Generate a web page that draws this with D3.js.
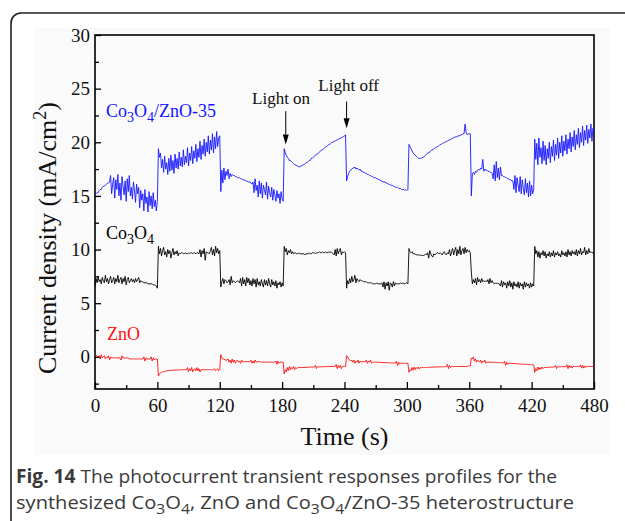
<!DOCTYPE html>
<html>
<head>
<meta charset="utf-8">
<script src="https://cdn.jsdelivr.net/npm/d3@7"></script>
<style>
  body { margin: 0; background: #fff; }
  svg { display: block; }
</style>
</head>
<body>
<div id="chart"></div>
<script>
// one reading per second, 0..480 s
const times = d3.range(0, 481, 1);

// Co3O4/ZnO-35 (blue), 20 values per row
const heteroValues = [
  15.1,15.2,15.3,15.3,15.5,15.6,15.6,15.8,15.9,15.9,16.0,16.1,16.2,16.2,16.3,16.9,15.2,16.1,16.7,14.8, // 0
  16.5,15.6,17.0,15.0,16.2,14.6,16.8,15.9,15.1,16.4,14.5,16.6,15.4,16.9,15.0,15.8,14.7,16.3,15.5,14.4, // 20
  16.1,15.2,15.8,13.9,15.5,14.6,15.2,13.6,15.6,14.3,14.9,13.5,15.4,14.1,15.0,13.8,15.3,14.0,14.6,13.6, // 40
  14.5,19.4,18.6,19.0,17.6,18.4,17.2,18.7,17.5,18.1,17.0,18.5,17.3,18.8,17.4,18.3,17.1,18.9,17.6,18.5, // 60
  17.5,19.1,17.8,18.6,17.7,19.3,17.9,18.7,18.1,19.5,17.8,19.0,18.3,19.6,18.0,19.2,18.5,19.8,18.2,19.4, // 80
  18.6,20.1,18.4,19.7,18.9,20.3,18.7,20.0,19.1,20.6,18.9,20.2,19.3,20.8,19.0,20.5,19.4,21.0,19.6,20.4, // 100
  20.6,15.4,17.4,16.2,17.6,16.5,17.3,16.9,17.5,16.6,17.1,16.8,17.0,16.9,16.9,16.8,16.8,16.7,16.7,16.7, // 120
  16.6,16.6,16.5,16.5,16.5,16.4,16.4,16.3,16.3,16.3,16.2,16.1,16.3,15.3,16.6,15.5,16.0,14.9,16.4,15.2, // 140
  16.2,14.8,16.0,15.6,15.1,16.3,14.7,15.9,15.3,14.9,15.8,14.6,15.6,15.1,14.5,15.5,14.8,15.2,14.3,15.4, // 160
  14.7,14.5,19.4,19.0,18.8,18.6,18.5,18.3,18.3,18.2,18.1,18.0,17.9,17.9,17.8,17.8,17.7,17.7,17.8,17.8, // 180
  17.9,17.9,18.0,18.1,18.1,18.2,18.3,18.3,18.5,18.5,18.6,18.7,18.8,18.9,18.9,19.0,19.1,19.2,19.3,19.3, // 200
  19.4,19.5,19.6,19.6,19.7,19.8,19.8,19.9,20.0,20.0,20.1,20.1,20.2,20.2,20.3,20.3,20.4,20.4,20.5,20.5, // 220
  20.6,20.7,16.4,16.8,17.1,17.3,17.4,17.5,17.6,17.6,17.7,17.5,17.6,17.5,17.4,17.5,17.3,17.3,17.2,17.2, // 240
  17.1,17.1,17.0,17.0,16.9,16.9,16.8,16.8,16.7,16.7,16.7,16.6,16.6,16.5,16.5,16.4,16.4,16.3,16.3,16.3, // 260
  16.2,16.2,16.1,16.1,16.0,16.0,16.0,15.9,15.9,15.8,15.8,15.8,15.7,15.7,15.7,15.6,15.6,15.6,15.5,15.6, // 280
  15.5,15.6,19.8,19.6,19.4,19.2,19.0,18.9,18.8,18.7,18.6,18.5,18.5,18.5,18.5,18.6,18.6,18.7,18.8,18.9, // 300
  19.0,19.0,19.1,19.2,19.3,19.3,19.4,19.5,19.5,19.6,19.6,19.7,19.8,19.8,19.9,19.9,20.0,20.0,20.1,20.1, // 320
  20.2,20.2,20.3,20.3,20.4,20.4,20.5,20.5,20.5,20.6,20.6,20.6,20.7,20.7,20.8,20.8,21.7,20.9,20.7,20.8, // 340
  20.8,20.8,15.0,17.1,17.2,17.0,17.3,17.2,17.4,17.5,17.4,17.6,17.5,18.4,17.3,17.5,17.4,17.4,17.3,17.3, // 360
  17.2,17.2,17.1,16.6,17.9,16.4,18.2,16.7,17.6,16.5,17.7,16.9,16.9,16.8,16.8,16.7,16.7,16.6,16.6,16.5, // 380
  16.5,16.4,16.4,15.6,16.9,15.3,16.7,16.0,15.4,16.8,15.2,16.5,15.7,15.1,16.6,15.3,16.2,14.9,16.4,15.0, // 400
  16.0,15.2,15.6,20.3,18.4,19.9,17.9,20.4,18.6,19.5,18.0,20.1,18.3,19.7,17.9,19.4,18.5,20.0,18.1,19.6, // 420
  18.7,20.2,18.3,19.8,18.8,20.4,18.5,20.0,19.0,20.6,18.7,20.1,19.2,20.7,18.9,20.3,19.4,20.9,19.1,20.5, // 440
  19.6,21.1,19.3,20.7,19.8,21.3,19.5,20.9,20.0,21.5,19.7,21.1,20.2,21.6,19.9,21.2,20.4,21.7,20.1,21.3, // 460
  20.9                                                                                                // 480
];

// Co3O4 (black)
const co3o4Values = [
  6.5,7.3,6.9,7.5,7.0,7.2,6.8,7.4,7.1,6.9,7.6,7.0,7.3,6.8,7.2,7.5,6.9,7.1,7.4,6.8,       // 0
  7.3,7.0,7.6,6.9,7.2,7.4,6.8,7.3,7.0,7.5,6.7,7.2,7.4,6.9,7.1,7.3,7.0,7.2,6.9,7.3,       // 20
  7.0,7.2,7.4,6.9,7.1,7.0,7.0,6.9,6.9,6.9,6.9,6.8,6.8,6.8,6.8,6.8,6.7,6.7,6.7,6.6,       // 40
  6.4,10.3,9.6,10.1,9.4,9.9,10.2,9.5,9.8,9.3,10.0,9.6,9.9,9.2,9.7,10.1,9.5,9.8,9.6,9.9,  // 60
  9.4,9.7,9.6,9.7,9.7,9.6,9.6,9.7,9.6,9.6,9.7,9.6,9.7,9.7,9.6,9.7,9.7,9.6,9.7,9.7,       // 80
  9.6,10.0,9.3,9.9,9.6,10.1,9.0,9.8,9.7,9.7,9.6,9.9,10.2,9.5,10.0,9.4,10.3,9.7,10.1,9.6, // 100
  9.9,6.5,7.0,7.3,6.8,7.2,7.1,6.9,7.0,7.2,6.7,7.5,6.9,7.1,7.0,6.9,7.0,7.1,7.0,6.9,       // 120
  7.3,6.6,7.4,6.8,7.2,6.6,7.4,6.9,7.3,6.7,7.1,6.6,7.3,6.8,7.2,6.5,7.3,6.7,7.0,6.6,       // 140
  7.2,6.8,6.5,7.2,6.7,7.1,6.6,7.3,6.8,6.5,7.2,6.7,7.0,6.6,7.1,6.4,6.9,6.7,7.0,6.5,       // 160
  6.9,6.6,10.3,9.8,10.1,9.5,9.9,9.7,10.0,9.6,9.8,9.6,9.7,9.7,9.6,9.6,9.7,9.6,9.6,9.6,    // 180
  9.6,9.6,9.5,9.6,9.6,9.6,9.7,9.6,9.6,9.7,9.7,9.7,9.6,9.7,9.7,9.7,9.8,9.7,9.7,9.8,       // 200
  9.7,9.7,9.8,9.7,9.7,9.8,9.7,9.8,9.7,9.6,9.5,10.0,9.4,10.1,9.6,9.9,10.1,9.5,9.8,9.7,    // 220
  9.8,9.7,6.4,7.1,6.8,7.3,6.9,7.5,7.0,7.2,7.6,6.9,7.3,7.1,7.0,7.2,7.1,7.1,7.0,7.0,       // 240
  7.0,7.0,6.9,6.9,6.9,6.9,6.9,6.8,6.8,6.8,6.8,6.9,6.8,6.8,6.8,6.8,6.9,6.5,7.0,6.3,       // 260
  6.9,6.6,7.0,6.2,6.9,6.8,6.5,7.0,6.6,6.9,6.8,6.8,6.8,6.8,6.9,6.8,6.9,6.8,6.8,6.9,       // 280
  6.9,6.8,10.1,9.8,9.7,9.8,9.6,9.6,9.6,9.5,9.5,9.5,9.5,9.5,9.4,9.5,9.4,9.5,9.6,9.5,      // 300
  9.7,9.2,9.9,9.6,9.4,9.3,9.6,9.5,9.6,9.7,9.7,9.6,9.7,9.6,9.5,9.7,9.8,9.6,9.5,9.7,       // 320
  9.6,10.0,9.4,9.8,10.1,9.5,9.9,10.2,9.4,10.0,9.6,10.3,9.5,9.9,10.1,9.6,10.2,9.7,10.0,9.8, // 340
  9.9,9.7,7.9,6.8,7.2,6.9,7.3,6.7,7.4,7.0,7.2,6.9,7.3,7.0,7.1,7.0,7.1,7.0,7.2,6.8,       // 360
  7.3,6.9,7.1,6.9,6.8,6.9,6.8,6.9,6.8,6.8,6.6,7.1,6.5,7.0,6.7,6.9,6.4,7.0,6.6,7.1,       // 380
  6.5,6.9,6.3,7.0,6.6,6.8,6.5,7.0,6.4,6.9,6.6,6.8,6.3,7.0,6.5,6.9,6.6,6.8,6.4,6.9,       // 400
  6.5,6.8,6.6,10.3,9.6,9.9,9.3,9.8,9.2,9.7,9.5,9.9,9.4,9.8,9.2,9.6,9.4,9.8,9.3,9.7,      // 420
  9.4,9.9,9.3,9.7,9.5,9.8,9.4,9.6,9.3,9.9,9.5,9.7,9.4,9.8,9.3,10.0,9.5,9.8,9.4,9.9,      // 440
  9.6,9.8,9.5,10.0,9.4,9.9,9.6,10.1,9.5,9.8,9.7,10.2,9.5,9.9,9.6,10.1,9.7,9.8,9.7,9.7,   // 460
  9.7                                                                                  // 480
];

// ZnO (red)
const znoValues = [
  0.2,0.1,0.1,0.0,0.1,-0.2,0.2,-0.1,0.0,0.1,-0.2,0.0,-0.1,0.1,-0.3,0.0,-0.1,-0.1,-0.1,-0.1,                 // 0
  -0.1,-0.1,-0.1,-0.1,-0.1,-0.3,0.1,-0.1,-0.1,-0.1,-0.1,-0.1,-0.1,-0.2,-0.2,-0.2,-0.2,-0.2,-0.2,-0.2,       // 20
  -0.2,-0.2,-0.2,-0.2,-0.2,-0.2,-0.2,0.0,-0.4,-0.1,-0.2,-0.2,-0.2,-0.2,0.0,-0.4,-0.1,-0.3,-0.2,-0.2,        // 40
  -0.2,-1.8,-1.6,-1.5,-1.45,-1.4,-1.38,-1.35,-1.33,-1.3,-1.3,-1.28,-1.27,-1.26,-1.25,-1.25,-1.24,-1.24,-1.23,-1.23, // 60
  -1.22,-1.22,-1.22,-1.21,-1.2,-1.2,-1.2,-1.2,-1.2,-1.0,-1.4,-1.1,-1.3,-1.0,-1.4,-1.2,-1.1,-1.3,-1.0,-1.3,  // 80
  -1.1,-1.4,-1.2,-1.2,-1.2,-1.2,-1.2,-1.2,-1.2,-1.2,-1.2,-1.2,-1.2,-1.2,-1.2,-1.1,-1.3,-1.2,-1.1,-1.3,      // 100
  -1.2,0.2,-0.1,-0.2,-0.2,-0.3,-0.3,-0.3,-0.2,-0.5,-0.3,-0.6,-0.2,-0.5,-0.3,-0.6,-0.4,-0.3,-0.5,-0.4,       // 120
  -0.6,-0.3,-0.5,-0.4,-0.5,-0.4,-0.45,-0.45,-0.45,-0.45,-0.3,-0.6,-0.4,-0.6,-0.3,-0.5,-0.45,-0.45,-0.45,-0.45, // 140
  -0.5,-0.5,-0.5,-0.5,-0.5,-0.5,-0.5,-0.5,-0.5,-0.5,-0.5,-0.5,-0.5,-0.5,-0.4,-0.7,-0.4,-0.6,-0.5,-0.5,     // 160
  -0.5,-0.5,-1.6,-1.2,-1.4,-1.0,-1.3,-0.9,-1.2,-1.0,-1.1,-0.9,-1.2,-1.0,-1.1,-1.0,-1.0,-1.0,-1.0,-1.0,     // 180
  -1.0,-1.0,-0.98,-0.98,-0.97,-0.97,-0.96,-0.96,-0.95,-0.95,-0.95,-0.95,-0.8,-1.1,-0.9,-0.94,-0.94,-0.93,-0.93,-0.93, // 200
  -0.92,-0.92,-0.92,-0.91,-0.91,-0.91,-0.9,-0.9,-0.9,-0.9,-0.9,-0.9,-0.7,-1.1,-0.8,-1.0,-0.8,-1.1,-0.9,-0.9, // 220
  -0.9,-0.9,0.1,0.0,-0.2,-0.3,-0.4,-0.3,-0.5,-0.3,-0.6,-0.4,-0.5,-0.3,-0.6,-0.4,-0.5,-0.45,-0.45,-0.45,     // 240
  -0.45,-0.3,-0.6,-0.4,-0.5,-0.3,-0.6,-0.5,-0.5,-0.5,-0.5,-0.5,-0.5,-0.5,-0.52,-0.52,-0.53,-0.53,-0.54,-0.54, // 260
  -0.55,-0.55,-0.55,-0.56,-0.56,-0.57,-0.57,-0.58,-0.58,-0.59,-0.4,-0.8,-0.5,-0.7,-0.6,-0.6,-0.6,-0.6,-0.6,-0.6, // 280
  -0.6,-0.6,-1.45,-1.2,-1.3,-1.0,-1.25,-0.95,-1.2,-1.0,-1.1,-0.95,-1.15,-1.0,-1.0,-1.0,-1.0,-1.0,-1.0,-1.0, // 300
  -0.98,-0.98,-0.97,-0.97,-0.96,-0.96,-0.95,-0.95,-0.95,-0.95,-0.94,-0.94,-0.94,-0.93,-0.93,-0.93,-0.92,-0.92,-0.92,-0.7, // 320
  -1.1,-0.8,-1.0,-0.9,-0.9,-0.9,-0.9,-0.9,-0.9,-0.9,-0.9,-0.9,-0.9,-0.9,-0.9,-0.9,-0.9,-0.9,-0.9,-0.85,    // 340
  -0.85,-0.85,-0.1,-0.2,0.0,-0.4,-0.2,-0.5,-0.3,-0.4,-0.5,-0.3,-0.6,-0.4,-0.5,-0.3,-0.6,-0.5,-0.5,-0.5,     // 360
  -0.5,-0.5,-0.5,-0.5,-0.52,-0.52,-0.53,-0.53,-0.54,-0.54,-0.55,-0.55,-0.56,-0.56,-0.4,-0.8,-0.5,-0.7,-0.6,-0.6, // 380
  -0.6,-0.6,-0.62,-0.62,-0.63,-0.64,-0.65,-0.65,-0.66,-0.67,-0.68,-0.68,-0.69,-0.7,-0.7,-0.7,-0.71,-0.72,-0.72,-0.73, // 400
  -0.73,-0.74,-0.75,-1.45,-1.1,-1.3,-0.95,-1.2,-1.0,-1.15,-0.95,-1.1,-1.0,-1.0,-1.0,-0.98,-0.98,-0.97,-0.97,-0.96, // 420
  -0.96,-0.95,-0.95,-0.8,-1.1,-0.9,-0.94,-0.93,-0.93,-0.92,-0.92,-0.92,-0.91,-0.91,-0.75,-1.1,-0.8,-1.0,-0.85,-1.05, // 440
  -0.9,-0.9,-0.9,-0.9,-0.9,-0.9,-0.9,-0.75,-1.05,-0.8,-1.05,-0.85,-1.0,-0.9,-0.9,-0.9,-0.9,-0.9,-0.9,-0.9, // 460
  -0.9                                                                                                     // 480
];

const xTicks = [0, 60, 120, 180, 240, 300, 360, 420, 480];
const xMinorTicks = [30, 90, 150, 210, 270, 330, 390, 450];
const yTicks = [0, 5, 10, 15, 20, 25, 30];
const yMinorTicks = [-2.5, 2.5, 7.5, 12.5, 17.5, 22.5, 27.5];

console.log(times.length, heteroValues.length, co3o4Values.length, znoValues.length);

const serif = '"Liberation Serif", "Times New Roman", serif';
const W = 625, H = 521;

const svg = d3.select("#chart").append("svg")
  .attr("width", W).attr("height", H);

// figure panel frame + light image background
svg.append("rect").attr("x", 34).attr("y", 28).attr("width", 576).attr("height", 427)
  .attr("fill", "#fafafa");
svg.append("path")
  .attr("d", "M11,521 V23 A10,10 0 0 1 21,13 H625")
  .attr("fill", "none").attr("stroke", "#222").attr("stroke-width", 1.6);

const x = d3.scaleLinear().domain([0, 480]).range([95, 594]);
const y = d3.scaleLinear().domain([-3, 30]).range([389, 35]);

svg.append("defs").append("clipPath").attr("id", "plot")
  .append("rect").attr("x", 95).attr("y", 35).attr("width", 499).attr("height", 354);

// axes, ticks pointing in
svg.append("g").attr("transform", "translate(0,389)")
  .call(d3.axisBottom(x).tickValues(xTicks).tickSizeInner(-7).tickSizeOuter(0).tickPadding(10));
svg.append("g").attr("transform", "translate(0,389)")
  .call(d3.axisBottom(x).tickValues(xMinorTicks).tickSizeInner(-4).tickSizeOuter(0).tickFormat(""));
svg.append("g").attr("transform", "translate(95,0)")
  .call(d3.axisLeft(y).tickValues(yTicks).tickSizeInner(-6).tickSizeOuter(0).tickPadding(5));
svg.append("g").attr("transform", "translate(95,0)")
  .call(d3.axisLeft(y).tickValues(yMinorTicks).tickSizeInner(-4).tickSizeOuter(0).tickFormat(""));

svg.selectAll(".domain").remove();
svg.selectAll(".tick line").attr("stroke", "#000").attr("stroke-width", 1.3);
svg.selectAll(".tick text").attr("font-family", serif).attr("font-size", 19).attr("fill", "#111");

svg.append("rect").attr("x", 95).attr("y", 35).attr("width", 499).attr("height", 354)
  .attr("fill", "none").attr("stroke", "#000").attr("stroke-width", 1.6);

// series
const line = d3.line().x((d, i) => x(times[i])).y(d => y(d));
const series = [
  { values: heteroValues, color: "#1515ff" },
  { values: co3o4Values, color: "#000000" },
  { values: znoValues, color: "#ff1010" }
];
svg.append("g").attr("clip-path", "url(#plot)")
  .selectAll("path").data(series).enter().append("path")
  .attr("d", d => line(d.values))
  .attr("fill", "none")
  .attr("stroke", d => d.color)
  .attr("stroke-width", 0.9)
  .attr("stroke-linejoin", "round");

// rich text helper: parts = [[text, "sub"|"sup"|"b"|null, dy], ...]
function richText(t, parts, size) {
  parts.forEach(p => {
    const s = t.append("tspan").text(p[0]);
    if (p[1] === "sub") s.attr("font-size", size * 0.78).attr("dy", size * 0.28);
    if (p[1] === "sup") s.attr("font-size", size * 0.7).attr("dy", -size * 0.4);
    if (p[1] === "b") s.attr("font-weight", "bold");
    if (p[2] !== undefined) s.attr("dy", p[2]);
  });
  return t;
}

// series labels
const lab1 = svg.append("text").attr("x", 106).attr("y", 117)
  .attr("font-family", serif).attr("font-size", 18).attr("fill", "#1515ff");
richText(lab1, [["Co"], ["3", "sub"], ["O", null, -18 * 0.28], ["4", "sub"], ["/ZnO-35", null, -18 * 0.28]], 18);

const lab2 = svg.append("text").attr("x", 106).attr("y", 239)
  .attr("font-family", serif).attr("font-size", 18).attr("fill", "#000");
richText(lab2, [["Co"], ["3", "sub"], ["O", null, -18 * 0.28], ["4", "sub"]], 18);

svg.append("text").attr("x", 107).attr("y", 340)
  .attr("font-family", serif).attr("font-size", 18).attr("fill", "#ff1010").text("ZnO");

// light on / off annotations
const notes = [
  { label: "Light on", t: 183.5, tx: 179, from: 22.9, to: 19.8, ty: 104 },
  { label: "Light off", t: 242, tx: 244, from: 23.8, to: 21.3, ty: 91 }
];
notes.forEach(n => {
  svg.append("line")
    .attr("x1", x(n.t)).attr("x2", x(n.t))
    .attr("y1", y(n.from)).attr("y2", y(n.to) - 10)
    .attr("stroke", "#000").attr("stroke-width", 1);
  svg.append("path")
    .attr("d", `M${x(n.t) - 3},${y(n.to) - 10} L${x(n.t) + 3},${y(n.to) - 10} L${x(n.t)},${y(n.to)} Z`)
    .attr("fill", "#000");
  svg.append("text").attr("x", x(n.tx)).attr("y", n.ty)
    .attr("text-anchor", "middle").attr("font-family", serif).attr("font-size", 17)
    .attr("fill", "#111").text(n.label);
});

// axis titles
svg.append("text").attr("x", x(240)).attr("y", 445).attr("text-anchor", "middle")
  .attr("font-family", serif).attr("font-size", 26).attr("fill", "#111").text("Time (s)");

const yt = svg.append("text").attr("transform", "translate(56,238) rotate(-90)")
  .attr("text-anchor", "middle").attr("font-family", serif).attr("font-size", 26).attr("fill", "#111");
richText(yt, [["Current density (mA/cm"], ["2", "sup"], [")", null, 26 * 0.4]], 26);

// caption
const capFont = '"Open Sans", "Noto Sans", sans-serif';
const cs = 19;
const c1 = svg.append("text").attr("x", 16).attr("y", 483)
  .attr("font-family", capFont).attr("font-size", cs).attr("fill", "#3a3a3a")
  .attr("textLength", 541).attr("lengthAdjust", "spacingAndGlyphs");
richText(c1, [["Fig. 14", "b"], [" The photocurrent transient responses profiles for the"]], cs);

const c2 = svg.append("text").attr("x", 16).attr("y", 509)
  .attr("font-family", capFont).attr("font-size", cs).attr("fill", "#3a3a3a")
  .attr("textLength", 558).attr("lengthAdjust", "spacingAndGlyphs");
richText(c2, [["synthesized Co"], ["3", "sub"], ["O", null, -cs * 0.28], ["4", "sub"],
  [", ZnO and Co", null, -cs * 0.28], ["3", "sub"], ["O", null, -cs * 0.28], ["4", "sub"],
  ["/ZnO-35 heterostructure", null, -cs * 0.28]], cs);
</script>
</body>
</html>
